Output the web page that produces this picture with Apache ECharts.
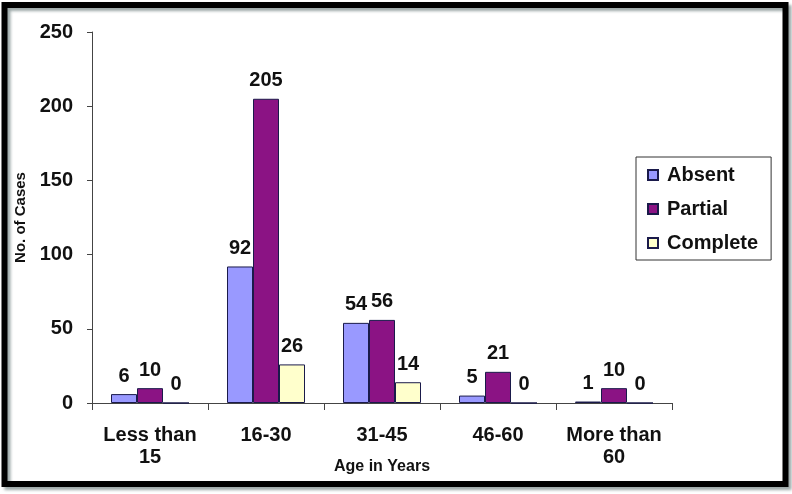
<!DOCTYPE html>
<html>
<head>
<meta charset="utf-8">
<script src="https://cdn.jsdelivr.net/npm/echarts@6/dist/echarts.min.js"></script>
<style>html,body{margin:0;padding:0;background:#fff}#c{width:792px;height:494px}</style>
</head>
<body>
<div id="c"></div>
<script>
const categories = ['Less than\n15', '16-30', '31-45', '46-60', 'More than\n60'];
const absent = [6, 92, 54, 5, 1];
const partial = [10, 205, 56, 21, 10];
const complete = [0, 26, 14, 0, 0];
const yTicks = [0, 50, 100, 150, 200, 250];

const chart = echarts.init(document.getElementById('c'));
const font = 'Liberation Sans, Arial, sans-serif';
const lbl = { show: true, position: 'top', distance: 8, fontFamily: font, fontWeight: 'bold', fontSize: 20, color: '#111' };
function ser(name, data, color) {
  return { name, type: 'bar', data, barWidth: 26, barGap: '0%',
    itemStyle: { color, borderColor: '#1a1a4a', borderWidth: 1 }, label: lbl };
}
chart.setOption({
  animation: false,
  grid: { left: 92, right: 120, top: 32, bottom: 91 },
  legend: {
    orient: 'vertical', left: 636, top: 157,
    padding: [7, 13, 6, 11], itemGap: 12,
    itemWidth: 10, itemHeight: 10, icon: 'rect',
    borderColor: '#333', borderWidth: 1,
    textStyle: { fontFamily: font, fontWeight: 'bold', fontSize: 20, color: '#111', lineHeight: 22, padding: [0, 0, 0, 4] },
    data: ['Absent', 'Partial', 'Complete']
  },
  xAxis: {
    type: 'category', data: categories,
    name: 'Age in Years', nameLocation: 'middle', nameGap: 56, nameMoveOverlap: false,
    nameTextStyle: { fontFamily: font, fontWeight: 'bold', fontSize: 16, color: '#111' },
    axisLine: { lineStyle: { color: '#444', width: 1 } },
    axisTick: { show: true, length: 7, lineStyle: { color: '#444' } },
    axisLabel: { interval: 0, fontFamily: font, fontWeight: 'bold', fontSize: 20, color: '#111', lineHeight: 22, margin: 21 }
  },
  yAxis: {
    type: 'value', min: 0, max: 250, interval: 50,
    name: 'No. of Cases', nameLocation: 'middle', nameGap: 64, nameRotate: 90, nameMoveOverlap: false,
    nameTextStyle: { fontFamily: font, fontWeight: 'bold', fontSize: 15, color: '#111' },
    axisLine: { show: true, lineStyle: { color: '#444', width: 1 } },
    axisTick: { show: true, length: 5, lineStyle: { color: '#444' } },
    splitLine: { show: false },
    axisLabel: { fontFamily: font, fontWeight: 'bold', fontSize: 20, color: '#111', margin: 19,
      formatter: v => yTicks.includes(v) ? String(v) : '' }
  },
  series: [
    ser('Absent', absent, '#9999FF'),
    ser('Partial', partial, '#8B1384'),
    ser('Complete', complete, '#FFFFCC')
  ],
  graphic: [{
    type: 'rect', silent: true, z: 100,
    shape: { x: 4.5, y: 5, width: 781, height: 479 },
    style: { fill: 'none', stroke: '#000', lineWidth: 6, shadowColor: 'rgba(90,110,110,0.6)', shadowBlur: 3, shadowOffsetX: 3, shadowOffsetY: 3 }
  }]
});
</script>
</body>
</html>
